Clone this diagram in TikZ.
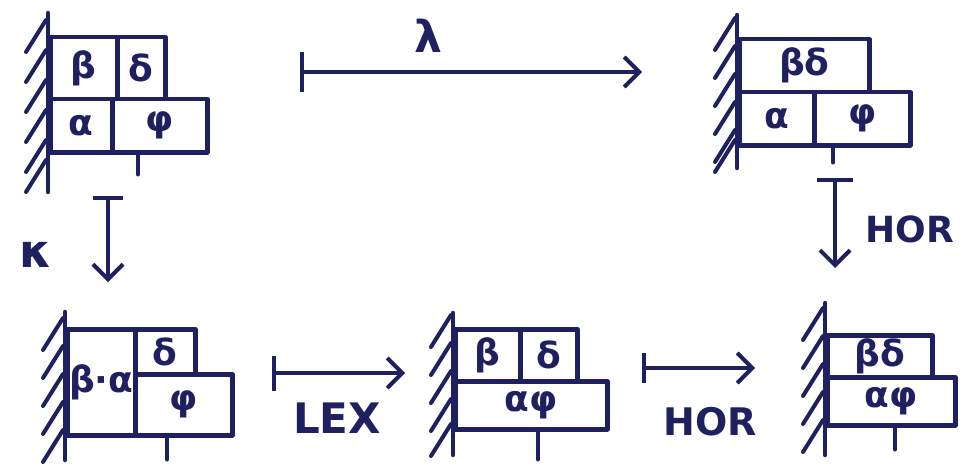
\documentclass[tikz,border=0pt]{standalone}
\usepackage{fontspec}
\setmainfont{DejaVu Sans}
\usetikzlibrary{arrows.meta}
\definecolor{ink}{RGB}{30,32,96}
% a wall: vertical stroke at x=#1 from y=#2 to y=#3, hatched on its left at the heights in #4
\newcommand\inkwall[4]{%
  \draw[inkline] (#1,#2) -- (#1,#3);
  \foreach \hy in {#4} {\draw[hatch] (#1-2,\hy) -- (#1-22,\hy+32);}
}
\begin{document}
\begin{tikzpicture}[x=1pt,y=-1pt,
  inkline/.style={draw=ink, line width=4.5pt, line cap=round, line join=round},
  hatch/.style={draw=ink, line width=4pt, line cap=round},
  cell/.style={inkline, anchor=north west, inner sep=0pt, text=ink,
    font=\fontsize{36}{36}\selectfont\bfseries},
  tick/.style={inkline, line width=4pt},
  mapsto/.style={inkline, {Bar[width=#1,line width=4pt]}-{Straight Barb[length=15pt,width=30pt,line width=4pt]}},
  mapsto/.default=36pt,
  lbl/.style={text=ink, inner sep=0pt, font=\fontsize{#1}{#1}\selectfont\bfseries},
  lbl/.default=36]
\useasboundingbox (0,0) rectangle (963,476);

% top left: beta, delta over alpha, phi
\inkwall{48}{13}{192}{20,50,80,110,140,160}
\node[cell, minimum width=67, minimum height=62] (tlB) at (48,35) {β};
\node[cell, minimum width=48, minimum height=62] (tlD) at (115,35) {δ};
\node[cell, minimum width=62, minimum height=53] (tlA) at (48,97) {α};
\node[cell, minimum width=95, minimum height=53] (tlF) at (110,97) {φ};
\draw[tick] (tlF.south west) ++(28,0) -- ++(0,20);

% top right: beta delta over alpha, phi
\inkwall{737}{15}{168}{18,46,74,102,130,140}
\node[cell, minimum width=130, minimum height=53] (trBD) at (737,37) {βδ};
\node[cell, minimum width=75, minimum height=53] (trA) at (737,90) {α};
\node[cell, minimum width=96, minimum height=53] (trF) at (812,90) {φ};
\draw[tick] (trF.south west) ++(21,0) -- ++(0,15);

% bottom left: beta.alpha beside delta over phi
\inkwall{65}{312}{460}{318,346,374,402,430}
\node[cell, minimum width=68, minimum height=106] (blBA) at (65,327) {β·α};
\node[cell, minimum width=60, minimum height=45] (blD) at (133,327) {δ};
\node[cell, minimum width=97, minimum height=61] (blF) at (133,372) {φ};
\draw[tick] (blF.south west) ++(34,0) -- ++(0,22);

% bottom middle: beta, delta over alpha phi
\inkwall{453}{313}{455}{315,343,371,399,424}
\node[cell, minimum width=65, minimum height=52] (bmB) at (453,327) {β};
\node[cell, minimum width=57, minimum height=52] (bmD) at (518,327) {δ};
\node[cell, minimum width=152, minimum height=48] (bmAF) at (453,379) {αφ};
\draw[tick] (bmAF.south west) ++(85,0) -- ++(0,28);

% bottom right: beta delta over alpha phi
\inkwall{825}{303}{455}{308,336,364,392,420}
\node[cell, minimum width=105, minimum height=42] (brBD) at (825,333) {βδ};
\node[cell, minimum width=128, minimum height=48] (brAF) at (825,375) {αφ};
\draw[tick] (brAF.south west) ++(70,0) -- ++(0,22);

% maps between the configurations
\coordinate (lamS) at (300,72);  \coordinate (lamE) at (642,72);
\coordinate (kapS) at (108,196); \coordinate (kapE) at (108,282);
\coordinate (hvS)  at (835,178); \coordinate (hvE)  at (835,268);
\coordinate (lexS) at (272,373); \coordinate (lexE) at (405,373);
\coordinate (hhS)  at (642,368); \coordinate (hhE)  at (755,368);

\draw[mapsto=40pt] (lamS) -- (lamE);
\draw[mapsto=30pt] (kapS) -- (kapE);
\draw[mapsto=36pt] (hvS) -- (hvE);
\draw[mapsto=35pt] (lexS) -- (lexE);
\draw[mapsto=30pt] (hhS) -- (hhE);

\node[lbl=44] (lamL) at (428,36) {λ};
\node[lbl=46] (kapL) at (36,255) {κ};
\node[lbl=36] (hvL)  at (910,229) {HOR};
\node[lbl=42] (lexL) at (337,418) {LEX};
\node[lbl=38] (hhL)  at (710,422) {HOR};
\end{tikzpicture}
\end{document}
